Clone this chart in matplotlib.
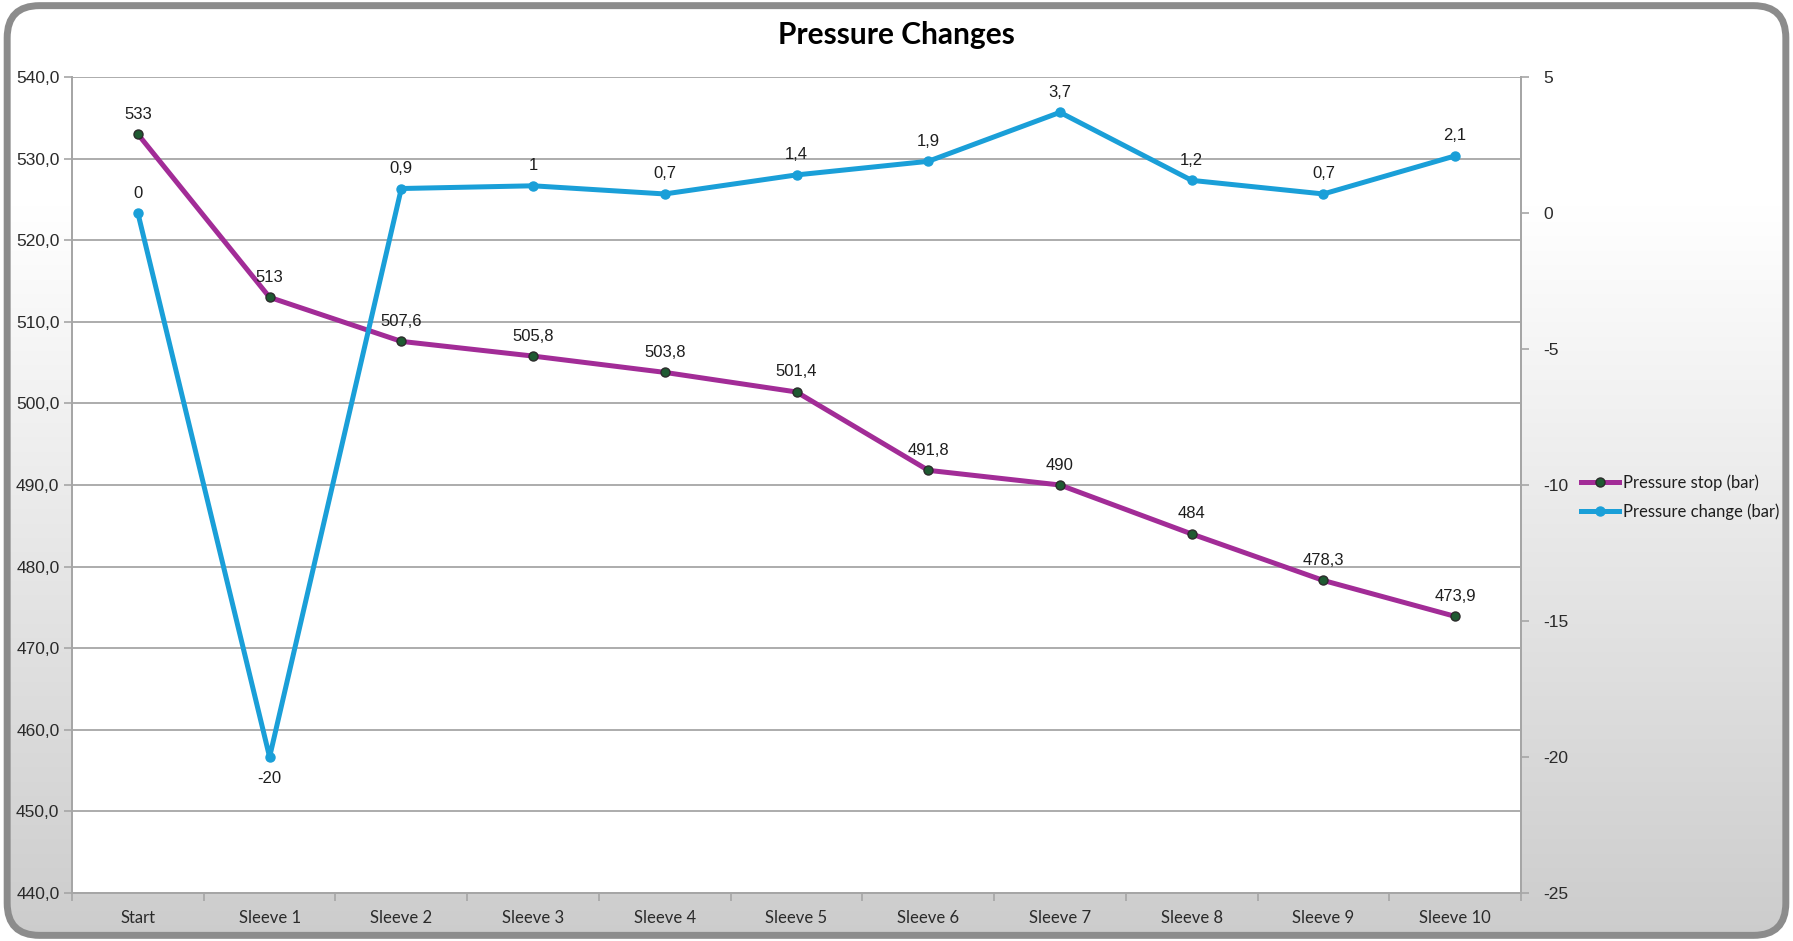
import numpy as np
import matplotlib
matplotlib.use("Agg")
import matplotlib.pyplot as plt
from matplotlib.patches import FancyBboxPatch
from matplotlib.ticker import FixedLocator, FuncFormatter, NullFormatter

## data
categories = ["Start", "Sleeve 1", "Sleeve 2", "Sleeve 3", "Sleeve 4", "Sleeve 5",
              "Sleeve 6", "Sleeve 7", "Sleeve 8", "Sleeve 9", "Sleeve 10"]
pressureStop = [533, 513, 507.6, 505.8, 503.8, 501.4, 491.8, 490, 484, 478.3, 473.9]
pressureChange = [0, -20, 0.9, 1, 0.7, 1.4, 1.9, 3.7, 1.2, 0.7, 2.1]

# plot parameters
purple = "#A22C97"
blue = "#1A9FD8"
gridGrey = "#a6a6a6"
textCol = "#1e1e1e"
numFont = "Liberation Sans"
textFont = "Lato"

def comma(v):
	return f"{v:g}".replace(".", ",")

fig = plt.figure(figsize=(17.93, 9.41), dpi=100)
fig.set_facecolor("white")

# background panel: rounded frame filled with a white -> grey vertical gradient
bg = fig.add_axes([0, 0, 1, 1], zorder=-10)
bg.set_xlim(0, 1)
bg.set_ylim(0, 1)
bg.axis("off")
t = np.linspace(0, 1, 400)[:, None]          # 0 at top, 1 at bottom
shade = 1.0 - 0.20 * np.clip((t - 0.22) / 0.78, 0, 1)
grad = np.repeat(shade, 2, axis=1)
img = bg.imshow(np.dstack([grad, grad, grad]), extent=[0, 1, 0, 1], aspect="auto", zorder=0)
frame = FancyBboxPatch((0.004, 0.006), 0.992, 0.988,
                       boxstyle="round,pad=0,rounding_size=0.018",
                       mutation_aspect=1793 / 941,
                       transform=bg.transAxes, facecolor="none",
                       edgecolor="#8c8c8c", linewidth=5, zorder=2)
bg.add_patch(frame)
img.set_clip_path(frame)

ax = fig.add_axes([72 / 1793, 1 - 893 / 941, (1521 - 72) / 1793, (893 - 77) / 941])
ax.set_facecolor("white")
ax2 = ax.twinx()

x = np.arange(len(categories))

ax.plot(x, pressureStop, color=purple, linewidth=3.6, marker="o", markersize=6.5,
        markerfacecolor="#1f5a32", markeredgecolor="#2b2b2b", markeredgewidth=1.0,
        label="Pressure stop (bar)", zorder=3)
ax2.plot(x, pressureChange, color=blue, linewidth=3.6, marker="o", markersize=6.5,
         markerfacecolor=blue, markeredgecolor=blue,
         label="Pressure change (bar)", zorder=3)

# data labels
for xi, v in zip(x, pressureStop):
	ax.annotate(comma(v), (xi, v), xytext=(0, 9), textcoords="offset points",
	            ha="center", va="bottom", fontsize=12, family=numFont, color=textCol)
for xi, v in zip(x, pressureChange):
	if v < 0:
		ax2.annotate(comma(v), (xi, v), xytext=(0, -10), textcoords="offset points",
		             ha="center", va="top", fontsize=12, family=numFont, color=textCol)
	else:
		ax2.annotate(comma(v), (xi, v), xytext=(0, 9), textcoords="offset points",
		             ha="center", va="bottom", fontsize=12, family=numFont, color=textCol)

# axes scales
ax.set_xlim(-0.5, len(categories) - 0.5)
ax.set_ylim(440, 540)
ax2.set_ylim(-25, 5)
ax.set_yticks(np.arange(440, 541, 10))
ax.yaxis.set_major_formatter(FuncFormatter(lambda v, p: f"{v:.1f}".replace(".", ",")))
ax2.set_yticks(np.arange(-25, 6, 5))
ax2.yaxis.set_major_formatter(FuncFormatter(lambda v, p: f"{v:g}"))

ax.set_xticks(x)
ax.set_xticklabels(categories, family=textFont, fontsize=12, color="#2a2a2a")
ax.xaxis.set_minor_locator(FixedLocator(np.arange(-0.5, len(categories), 1)))
ax.xaxis.set_minor_formatter(NullFormatter())
ax.tick_params(axis="x", which="major", length=0, pad=12)
ax.tick_params(axis="x", which="minor", length=6, color=gridGrey, width=1.2)
ax.tick_params(axis="y", length=6, color=gridGrey, width=1.2, pad=3, labelsize=12.5)
ax2.tick_params(axis="y", length=6, color=gridGrey, width=1.2, pad=10, labelsize=12.5)
for lab in ax.get_yticklabels() + ax2.get_yticklabels():
	lab.set_family(numFont)
	lab.set_color("#2a2a2a")

ax.yaxis.grid(True, color=gridGrey, linewidth=1.3)
ax.set_axisbelow(True)
for a in (ax, ax2):
	a.spines["top"].set_visible(False)
	for s in ("left", "right", "bottom"):
		a.spines[s].set_color(gridGrey)
		a.spines[s].set_linewidth(1.3)

fig.text(0.5, 1 - 35 / 941, "Pressure Changes", ha="center", va="center",
         fontsize=21.5, fontweight="bold", family=textFont, color="black")

h1, l1 = ax.get_legend_handles_labels()
h2, l2 = ax2.get_legend_handles_labels()
fig.legend(h1 + h2, l1 + l2, loc="center left", bbox_to_anchor=(1566 / 1793, 1 - 497 / 941),
           frameon=False, prop={"family": textFont, "size": 12}, handlelength=2.3,
           handletextpad=0.2, labelspacing=0.75, labelcolor=textCol)

fig.savefig("out.png", dpi=100, facecolor=fig.get_facecolor())
